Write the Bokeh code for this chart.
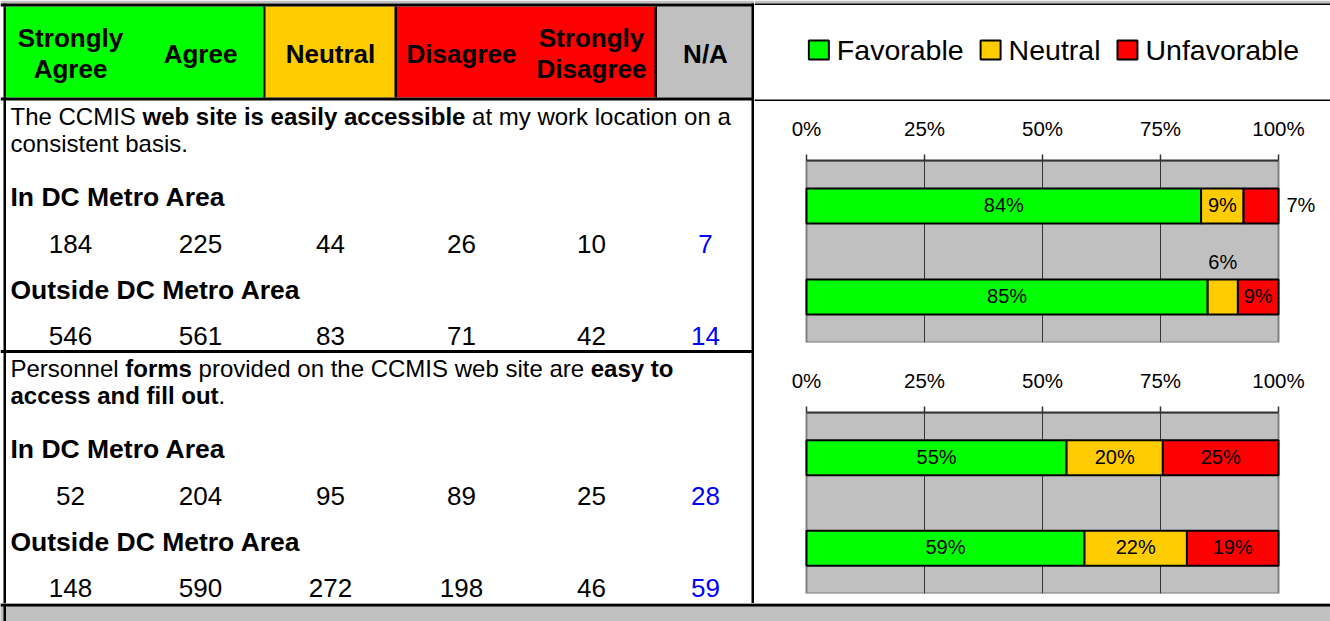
import glob
import subprocess

from bokeh.plotting import figure
from bokeh.layouts import row, column
from bokeh.models import Range1d, FactorRange, ColumnDataSource, FixedTicker
from bokeh.core.properties import value
from bokeh.embed import file_html
from bokeh.resources import INLINE

# ---------------- data ----------------
response_categories = ["Strongly Agree", "Agree", "Neutral", "Disagree", "Strongly Disagree", "N/A"]
header_lines = [["Strongly", "Agree"], ["Agree"], ["Neutral"], ["Disagree"], ["Strongly", "Disagree"], ["N/A"]]
groups = ["In DC Metro Area", "Outside DC Metro Area"]

q1_in_dc = [184, 225, 44, 26, 10, 7]
q1_outside_dc = [546, 561, 83, 71, 42, 14]
q2_in_dc = [52, 204, 95, 89, 25, 28]
q2_outside_dc = [148, 590, 272, 198, 46, 59]

series_names = ["Favorable", "Neutral", "Unfavorable"]
q1_favorable = [83.6, 85.0]
q1_neutral = [9.0, 6.4]
q1_unfavorable = [7.4, 8.6]
q2_favorable = [55.1, 58.9]
q2_neutral = [20.4, 21.7]
q2_unfavorable = [24.5, 19.4]

tick_values = [0, 25, 50, 75, 100]
tick_labels = ["0%", "25%", "50%", "75%", "100%"]

q1_text = [
    [("The CCMIS ", False), ("web site is easily accessible", True), (" at my work location on a", False)],
    [("consistent basis.", False)],
]
q2_text = [
    [("Personnel ", False), ("forms", True), (" provided on the CCMIS web site are ", False), ("easy to", True)],
    [("access and fill out", True), (".", False)],
]

# ---------------- styles ----------------
GREEN = "#00FF00"
GOLD = "#FFCC00"
RED = "#FF0000"
GRAY = "#C0C0C0"
BLUE = "#0000FF"
FONT = "Liberation Sans"
SERIES_COLORS = [GREEN, GOLD, RED]


def _font_path(fname, style):
    hits = []
    for root in ("/usr/share/fonts", "/usr/local/share/fonts", "/usr/lib/fonts"):
        hits += glob.glob(root + "/**/" + fname, recursive=True)
    if hits:
        return hits[0]
    try:
        out = subprocess.run(["fc-match", "-f", "%{file}", "Liberation Sans:style=" + style],
                             capture_output=True, text=True).stdout.strip()
        if out:
            return out
    except Exception:
        pass
    return None


FONTS = {}
try:
    from PIL import ImageFont
    for bold, fname, style in ((False, "LiberationSans-Regular.ttf", "Regular"),
                               (True, "LiberationSans-Bold.ttf", "Bold")):
        path = _font_path(fname, style)
        if path:
            FONTS[bold] = ImageFont.truetype(path, 100)
except Exception:
    FONTS = {}


def text_width(s, size, bold=False):
    f = FONTS.get(bold)
    if f is not None:
        return f.getlength(s) * size / 100.0
    return len(s) * size * (0.58 if bold else 0.53)


def pixel_figure(width, height, x0, x1, y0, y1, bg="white"):
    p = figure(width=width, height=height, x_range=Range1d(x0, x1), y_range=Range1d(y1, y0),
               output_backend="svg", toolbar_location=None, min_border=0,
               min_border_left=0, min_border_right=0, min_border_top=0, min_border_bottom=0,
               x_axis_location=None, y_axis_location=None,
               outline_line_color=None, background_fill_color=bg, border_fill_color=bg)
    p.grid.grid_line_color = None
    return p


def boxes(p, items, color):
    l, r, t, b = zip(*items)
    p.quad(left=list(l), right=list(r), top=list(t), bottom=list(b), fill_color=color, line_color=None)


# ---------------- left table (page x 0..754, y 0..603) ----------------
L = pixel_figure(754, 603, 0, 754, 0, 603)

boxes(L, [(0, 754, 0, 3)], GRAY)
cell_bounds = [5, 264, 395, 655, 752]
cell_colors = [GREEN, GOLD, RED, GRAY]
L.quad(left=cell_bounds[:-1], right=cell_bounds[1:], top=6, bottom=97,
       fill_color=cell_colors, line_color=None)
boxes(L, [(0, 754, 3, 6), (0, 754, 97, 100), (0, 754, 349.5, 352.5),
          (263, 265, 6, 97), (394, 396.5, 6, 97), (654, 656.5, 6, 97),
          (3, 5.5, 3, 603), (751, 754, 3, 603)], "black")

col_centers = [70, 200, 330, 461, 591, 705]

hx, hy, ht = [], [], []
for cx, lines in zip(col_centers, header_lines):
    ys = [53] if len(lines) == 1 else [37, 68.5]
    for yy, tt in zip(ys, lines):
        hx.append(cx)
        hy.append(yy)
        ht.append(tt)
L.text(x=hx, y=hy, text=ht, text_font=value(FONT), text_font_size=value("26px"),
       text_font_style="bold", text_align="center", text_baseline="middle", text_color="black")

block_tops = [0, 252]
BODY_SIZE = 24
reg = {"x": [], "y": [], "text": []}
bld = {"x": [], "y": [], "text": []}
sub = {"x": [], "y": [], "text": []}
num = {"x": [], "y": [], "text": []}
na = {"x": [], "y": [], "text": []}

for t0, qtext, counts in zip(block_tops, [q1_text, q2_text],
                             [[q1_in_dc, q1_outside_dc], [q2_in_dc, q2_outside_dc]]):
    for li, segs in enumerate(qtext):
        x = 10.0
        yc = t0 + 115.5 + li * 27.5
        for s, isbold in segs:
            lead = len(s) - len(s.lstrip())
            d = bld if isbold else reg
            d["x"].append(x + text_width(s[:lead], BODY_SIZE, isbold))
            d["y"].append(yc)
            d["text"].append(s.strip())
            x += text_width(s, BODY_SIZE, isbold)
    for gi, (gname, vals) in enumerate(zip(groups, counts)):
        sub["x"].append(10)
        sub["y"].append(t0 + 196.5 + gi * 93)
        sub["text"].append(gname)
        for ci, (cx, v) in enumerate(zip(col_centers, vals)):
            d = na if response_categories[ci] == "N/A" else num
            d["x"].append(cx)
            d["y"].append(t0 + 243.5 + gi * 92)
            d["text"].append(str(v))

common = dict(text_font=value(FONT), text_baseline="middle")
L.text(x="x", y="y", text="text", source=ColumnDataSource(reg), text_font_size=value(f"{BODY_SIZE}px"),
       text_align="left", text_color="black", **common)
L.text(x="x", y="y", text="text", source=ColumnDataSource(bld), text_font_size=value(f"{BODY_SIZE}px"),
       text_font_style="bold", text_align="left", text_color="black", **common)
L.text(x="x", y="y", text="text", source=ColumnDataSource(sub), text_font_size=value("26.5px"),
       text_font_style="bold", text_align="left", text_color="black", **common)
L.text(x="x", y="y", text="text", source=ColumnDataSource(num), text_font_size=value("26px"),
       text_align="center", text_color="black", **common)
L.text(x="x", y="y", text="text", source=ColumnDataSource(na), text_font_size=value("26px"),
       text_align="center", text_color=BLUE, **common)

# ---------------- legend panel (page x 754..1330, y 0..101) ----------------
G = pixel_figure(576, 101, 754, 1330, 0, 101)
boxes(G, [(754, 1330, 0, 3)], GRAY)
boxes(G, [(754, 1330, 3, 4.5), (754, 1330, 99, 101)], "black")
LEG_SIZE = 28.5
SQ, GAP1, GAP2 = 20, 8, 17
widths = [text_width(n, LEG_SIZE) for n in series_names]
total = sum(SQ + GAP1 + w for w in widths) + GAP2 * (len(widths) - 1)
x = 1053.5 - total / 2
sq_l, sq_r, tx = [], [], []
for w in widths:
    sq_l.append(x)
    sq_r.append(x + SQ)
    tx.append(x + SQ + GAP1)
    x += SQ + GAP1 + w + GAP2
G.quad(left=sq_l, right=sq_r, top=40, bottom=59, fill_color=SERIES_COLORS,
       line_color="black", line_width=2)
G.text(x=tx, y=[49] * 3, text=series_names, text_font=value(FONT), text_font_size=value(f"{LEG_SIZE}px"),
       text_align="left", text_baseline="middle", text_color="black")


# ---------------- charts ----------------
PLOT_LEFT, PLOT_RIGHT, PANEL_W = 52, 52, 576


def make_chart(fav, neu, unf, height, top_b, bottom_b):
    span = PANEL_W - PLOT_LEFT - PLOT_RIGHT
    pad_l = PLOT_LEFT / span * 100
    pad_r = PLOT_RIGHT / span * 100
    p = figure(width=PANEL_W, height=height, x_range=Range1d(-pad_l, 100 + pad_r),
               y_range=FactorRange(factors=groups[::-1]),
               x_axis_location="above", y_axis_location=None,
               output_backend="svg", toolbar_location=None,
               min_border_left=0, min_border_right=0, min_border_top=top_b, min_border_bottom=bottom_b,
               background_fill_color="white", border_fill_color="white", outline_line_color=None)
    ax = p.xaxis[0]
    ax.ticker = FixedTicker(ticks=tick_values)
    ax.bounds = (tick_values[0], tick_values[-1])
    ax.major_label_overrides = {t: s for t, s in zip(tick_values, tick_labels)}
    ax.axis_line_color = "#333333"
    ax.axis_line_width = 2
    ax.major_tick_line_color = "#333333"
    ax.major_tick_line_width = 1.5
    ax.major_tick_out = 6
    ax.major_tick_in = 0
    ax.minor_tick_line_color = None
    ax.major_label_standoff = 15
    ax.major_label_text_font = FONT
    ax.major_label_text_font_size = "20.5px"
    ax.major_label_text_color = "black"
    p.xgrid.ticker = FixedTicker(ticks=tick_values[1:-1])
    p.xgrid.grid_line_color = "#333333"
    p.xgrid.grid_line_width = 1
    p.ygrid.grid_line_color = None

    # plot area (gray) beneath the grid
    p.quad(left=tick_values[0], right=tick_values[-1], bottom=0, top=len(groups),
           fill_color=GRAY, line_color="#808080", line_width=2, level="image")

    src = ColumnDataSource(dict(grp=groups, fav=fav, neu=neu, unf=unf))
    p.hbar_stack(["fav", "neu", "unf"], y="grp", height=0.385, source=src,
                 fill_color=SERIES_COLORS, line_color="black", line_width=2)

    c_lab = {"x": [], "y": [], "text": [], "yo": []}
    o_lab = {"x": [], "y": [], "text": []}
    for gi, g in enumerate(groups):
        left = 0.0
        for si, vals in enumerate([fav, neu, unf]):
            v = vals[gi]
            t = f"{int(v + 0.5)}%"
            if v < 8 and si == 2:
                o_lab["x"].append(left + v)
                o_lab["y"].append(g)
                o_lab["text"].append(t)
            else:
                c_lab["x"].append(left + v / 2)
                c_lab["y"].append(g)
                c_lab["text"].append(t)
                c_lab["yo"].append(-35 if v < 8 else -1)
            left += v
    p.text(x="x", y="y", text="text", y_offset="yo", source=ColumnDataSource(c_lab),
           text_align="center", text_baseline="middle", text_font=value(FONT),
           text_font_size=value("20px"), text_color="black")
    if o_lab["x"]:
        p.text(x="x", y="y", text="text", x_offset=8, y_offset=-1, source=ColumnDataSource(o_lab),
               text_align="left", text_baseline="middle", text_font=value(FONT),
               text_font_size=value("20px"), text_color="black")
    return p


C1 = make_chart(q1_favorable, q1_neutral, q1_unfavorable, 250, 59, 9)
C2 = make_chart(q2_favorable, q2_neutral, q2_unfavorable, 250, 59, 10)

S = pixel_figure(576, 2, 0, 1, 0, 1, bg="black")
boxes(S, [(0, 1, 0, 1)], "black")

F = pixel_figure(1330, 18, 0, 1330, 0, 18, bg=GRAY)
boxes(F, [(0, 1330, 0, 3), (3, 5.5, 0, 18)], "black")

page = column(row(L, column(G, C1, S, C2)), F)
open("out.html", "w").write(file_html(page, INLINE, title="CCMIS survey"))
